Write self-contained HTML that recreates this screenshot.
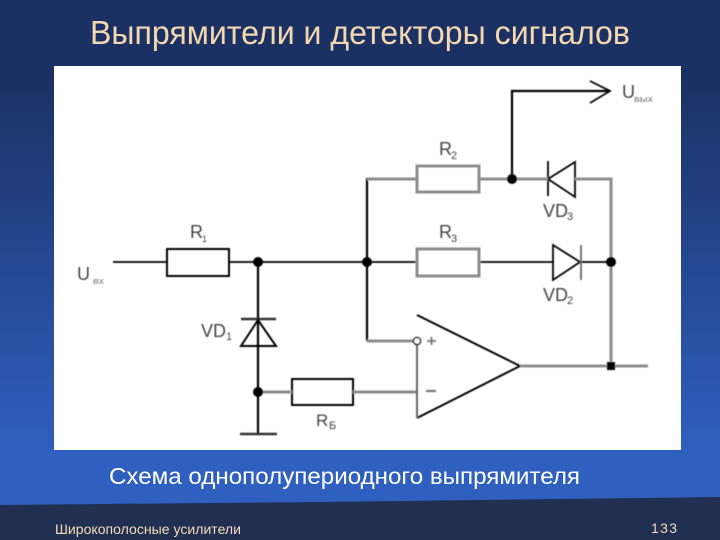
<!DOCTYPE html>
<html><head><meta charset="utf-8"><style>
html,body{margin:0;padding:0;width:720px;height:540px;overflow:hidden;background:#1b3163}
svg{display:block}
text{font-family:"Liberation Sans",sans-serif}
</style></head><body>
<svg width="720" height="540" viewBox="0 0 720 540" xmlns="http://www.w3.org/2000/svg">
<defs><linearGradient id="bg" x1="0" y1="0" x2="0" y2="1">
<stop offset="0" stop-color="#1b3163"/><stop offset="0.14" stop-color="#1b3163"/><stop offset="0.85" stop-color="#2f60c0"/><stop offset="1" stop-color="#2f60c0"/></linearGradient>
<filter id="b" x="-2%" y="-2%" width="104%" height="104%"><feGaussianBlur stdDeviation="0.5"/></filter></defs>
<rect width="720" height="540" fill="url(#bg)"/>
<text x="90" y="44" font-size="33" fill="#f6d8b0" textLength="540" lengthAdjust="spacingAndGlyphs">Выпрямители и детекторы сигналов</text>
<rect x="54" y="66" width="627" height="384" fill="#fff"/>
<g filter="url(#b)">
<g fill="none" stroke="#000" stroke-width="2">
<path d="M113 262H167M229 262H417M479 262H553M581 262H611" stroke-width="1.8"/>
<path d="M258 262V434M367 178V341M512 179V91H610" stroke-width="2.2"/>
<path d="M590 81L610 91L590 103" stroke-width="1.8"/>
<rect x="167" y="249" width="62" height="27"/>
<rect x="292" y="379" width="61" height="26"/>
<path d="M241 319H276M240 434H277" stroke="#333" stroke-width="2.6"/>
<path d="M258 320L241 346H276Z"/>
<path d="M548 161V196" stroke-width="1.8"/>
<path d="M548 179L575 162V197Z" stroke-width="1.8"/>
<path d="M553 245V280L580 262Z" stroke-width="1.8"/>
<path d="M581 245V280" stroke="#666" stroke-width="1.8"/>
<path d="M417 315L520 366L417 418" stroke-width="2"/>
</g>
<g fill="none" stroke="#8c8c8c" stroke-width="3">
<path d="M367 179H417M479 179H548M575 179H611V366"/>
<path d="M520 366H648M353 392H417M258 392H292M367 341H413"/>
<path d="M417 345V418" stroke="#666" stroke-width="2"/>
<rect x="417" y="166" width="62" height="26"/>
<rect x="417" y="249" width="62" height="27"/>
</g>
<g fill="#000">
<circle cx="258" cy="262" r="5"/><circle cx="367" cy="262" r="5"/><circle cx="512" cy="179" r="5"/><circle cx="611" cy="262" r="5"/><circle cx="258" cy="392" r="5"/>
<rect x="607" y="362" width="8" height="8"/>
</g>
<circle cx="417" cy="341" r="3.6" fill="#fff" stroke="#111" stroke-width="1.4"/>
<path d="M427 341H436M431.500 337V345" stroke="#777" stroke-width="1.8"/>
<path d="M426 391H436" stroke="#777" stroke-width="2.2"/>
<g fill="#444" font-size="18">
<text x="190" y="238">R</text><text x="202" y="242" font-size="9">1</text>
<text x="439" y="155">R</text><text x="451" y="159" font-size="11">2</text>
<text x="439" y="238">R</text><text x="451" y="242" font-size="11">3</text>
<text x="316" y="426" font-size="17">R</text><text x="329" y="429" font-size="11">Б</text>
<text x="77" y="280">U</text><text x="93" y="284" font-size="9" fill="#777" textLength="11" lengthAdjust="spacingAndGlyphs">вх</text>
<text x="622" y="98">U</text><text x="634" y="102" font-size="9" fill="#777" textLength="19" lengthAdjust="spacingAndGlyphs">вых</text>
<text x="543" y="217">VD</text><text x="567" y="220" font-size="11">3</text>
<text x="543" y="301">VD</text><text x="567" y="304" font-size="11">2</text>
<text x="201" y="337">VD</text><text x="226" y="340" font-size="11">1</text>
</g>
</g>
<text x="109" y="484" font-size="23" fill="#fff" textLength="471" lengthAdjust="spacingAndGlyphs">Схема однополупериодного выпрямителя</text>
<path d="M0 505L320 502L720 497V540H0Z" fill="#212f52"/>
<text x="55" y="534" font-size="14" fill="#f6dcb8" textLength="186" lengthAdjust="spacingAndGlyphs">Широкополосные усилители</text>
<text x="651" y="533" font-size="14" fill="#f6dcb8" textLength="26">133</text>
</svg>
</body></html>
